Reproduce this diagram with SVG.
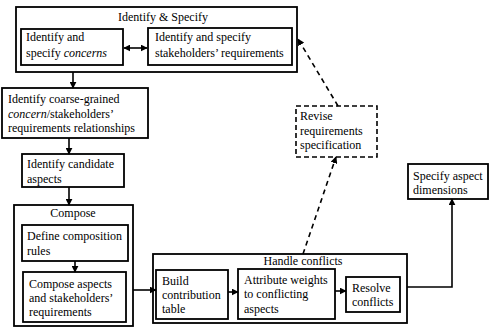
<svg xmlns="http://www.w3.org/2000/svg" width="489" height="327" viewBox="0 0 489 327">
<defs>
<marker id="ah" viewBox="0 0 10 10" refX="9" refY="5" markerWidth="7" markerHeight="7" markerUnits="userSpaceOnUse" orient="auto-start-reverse">
<path d="M0,0 L10,5 L0,10 z" fill="#000"/>
</marker>
<style>
.box{fill:#fff;stroke:#000;stroke-width:1.8}
.dbox{fill:#fff;stroke:#000;stroke-width:1.6;stroke-dasharray:5,3}
.t{font-family:"Liberation Serif","Times New Roman",serif;font-size:12px;fill:#000}
.c{text-anchor:middle}
.ln{fill:none;stroke:#000;stroke-width:1.6}
.dl{fill:none;stroke:#000;stroke-width:1.6;stroke-dasharray:5,4}
</style>
</defs>
<rect width="489" height="327" fill="#fff"/>
<g id="identify-specify">
<rect class="box" x="16" y="7" width="281" height="65"/>
<text class="t c" x="163" y="21">Identify &amp; Specify</text>
</g>
<g id="concerns">
<rect class="box" x="21" y="29" width="102" height="36"/>
<text class="t" x="26" y="41">Identify and</text>
<text class="t" x="26" y="57">specify <tspan font-style="italic">concerns</tspan></text>
</g>
<g id="stakeholders">
<rect class="box" x="148" y="28" width="144" height="37"/>
<text class="t" x="155" y="41">Identify and specify</text>
<text class="t" x="155" y="57">stakeholders’ requirements</text>
</g>
<g id="coarse">
<rect class="box" x="2" y="88" width="146" height="50"/>
<text class="t" x="8" y="103">Identify coarse-grained</text>
<text class="t" x="8" y="118"><tspan font-style="italic">concern</tspan>/stakeholders’</text>
<text class="t" x="8" y="132">requirements relationships</text>
</g>
<g id="candidate">
<rect class="box" x="22" y="154" width="102" height="33"/>
<text class="t" x="27" y="168">Identify candidate</text>
<text class="t" x="27" y="183">aspects</text>
</g>
<g id="compose">
<rect class="box" x="14" y="205" width="119" height="121"/>
<text class="t c" x="73" y="217">Compose</text>
</g>
<g id="define-rules">
<rect class="box" x="22" y="225" width="106" height="36"/>
<text class="t" x="27" y="240">Define composition</text>
<text class="t" x="27" y="255">rules</text>
</g>
<g id="compose-aspects">
<rect class="box" x="23" y="272" width="103" height="50"/>
<text class="t" x="29" y="288">Compose aspects</text>
<text class="t" x="29" y="302">and stakeholders’</text>
<text class="t" x="29" y="316">requirements</text>
</g>
<g id="handle-conflicts">
<rect class="box" x="153" y="254" width="254" height="69"/>
<text class="t c" x="303" y="265">Handle conflicts</text>
</g>
<g id="build">
<rect class="box" x="156" y="270" width="72" height="49"/>
<text class="t" x="162" y="285">Build</text>
<text class="t" x="162" y="299">contribution</text>
<text class="t" x="162" y="313">table</text>
</g>
<g id="attribute">
<rect class="box" x="238" y="269" width="97" height="50"/>
<text class="t" x="244" y="284">Attribute weights</text>
<text class="t" x="244" y="298">to conflicting</text>
<text class="t" x="244" y="313">aspects</text>
</g>
<g id="resolve">
<rect class="box" x="346" y="277" width="54" height="35"/>
<text class="t" x="352" y="292">Resolve</text>
<text class="t" x="352" y="306">conflicts</text>
</g>
<g id="revise">
<rect class="dbox" x="296" y="106" width="81" height="51"/>
<text class="t" x="300" y="120">Revise</text>
<text class="t" x="300" y="135">requirements</text>
<text class="t" x="300" y="149">specification</text>
</g>
<g id="specify-dimensions">
<rect class="box" x="408" y="164" width="80" height="35"/>
<text class="t" x="413" y="180">Specify aspect</text>
<text class="t" x="413" y="194">dimensions</text>
</g>
<g id="connectors">
<line class="ln" x1="124" y1="48" x2="147" y2="48" marker-start="url(#ah)" marker-end="url(#ah)"/>
<line class="ln" x1="73" y1="72" x2="73" y2="88" marker-end="url(#ah)"/>
<line class="ln" x1="69" y1="138" x2="69" y2="154" marker-end="url(#ah)"/>
<line class="ln" x1="69" y1="187" x2="69" y2="205" marker-end="url(#ah)"/>
<line class="ln" x1="75" y1="261" x2="75" y2="272" marker-end="url(#ah)"/>
<line class="ln" x1="133" y1="290" x2="156" y2="290" marker-end="url(#ah)"/>
<line class="ln" x1="228" y1="292" x2="238" y2="292" marker-end="url(#ah)"/>
<line class="ln" x1="335" y1="291" x2="346" y2="291" marker-end="url(#ah)"/>
<polyline class="ln" points="407,287 452,287 452,199" marker-end="url(#ah)"/>
<line class="dl" x1="303" y1="254" x2="336" y2="157" marker-end="url(#ah)"/>
<line class="dl" x1="338" y1="106" x2="298" y2="39" marker-end="url(#ah)"/>
</g>
</svg>
